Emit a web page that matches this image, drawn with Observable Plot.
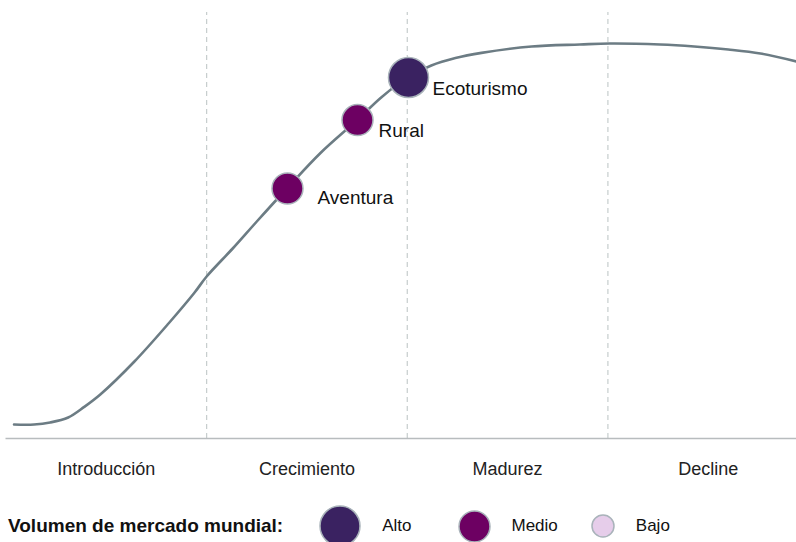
<!DOCTYPE html>
<html>
<head>
<meta charset="utf-8">
<script src="https://cdn.jsdelivr.net/npm/d3@7"></script>
<script src="https://cdn.jsdelivr.net/npm/@observablehq/plot@0.6"></script>
<style>
  html, body { margin: 0; padding: 0; background: #fff; overflow: hidden; }
  #wrap { position: relative; width: 796px; height: 542px; font-family: "Liberation Sans", Arial, sans-serif; }
  #legend { position: absolute; left: 0; top: 496px; height: 60px; display: flex; align-items: center; color: #111; }
  #legend .title { font-weight: bold; font-size: 19px; margin-left: 8px; margin-right: 36px; }
  #legend .lab { font-size: 17px; margin-left: 21px; }
  #legend svg { display: block; }
</style>
</head>
<body>
<div id="wrap"></div>
<script>
// Stages (x axis categories)
const stages = ["Introducción", "Crecimiento", "Madurez", "Decline"];
// Stage boundaries
const boundaries = [1, 2, 3];

// Life-cycle curve (x in stage units, y in relative sales)
const curveX = [0.04, 0.14, 0.22, 0.31, 0.39, 0.47, 0.64, 0.81, 0.94, 1.0, 1.13, 1.25, 1.4, 1.57, 1.75, 1.87, 2.0, 2.12, 2.24, 2.37, 2.62, 2.86, 3.01, 3.26, 3.43, 3.6, 3.76, 3.94];
const curveY = [3.5, 3.5, 4, 5.25, 7.9, 11, 19.25, 28.75, 36.5, 40.5, 47.5, 54.25, 62.5, 71.5, 79.6, 85.25, 90.25, 93.25, 95.1, 96.4, 98, 98.5, 98.75, 98.5, 98, 97.25, 96.25, 94.25];

// Tourism types placed on the curve
const tipos = ["Aventura", "Rural", "Ecoturismo"];
const tiposX = [1.403, 1.752, 2.006];
const tiposY = [62.5, 79.6, 90.25];
const tiposVolumen = ["Medio", "Medio", "Alto"];

// Legend
const legendTitle = "Volumen de mercado mundial:";
const volumenes = ["Alto", "Medio", "Bajo"];

// styles
const volColors = ["#3a2261", "#6d0062", "#e6cdea"];
const volRadii = [20, 15.5, 11];
const legendGaps = [46, 33, 0];
const labelOffsets = {Aventura: [30, 9], Rural: [21, 11], Ecoturismo: [24, 11]};

const curve = curveX.map((x, i) => ({x, y: curveY[i]}));
const puntos = tipos.map((t, i) => ({tipo: t, x: tiposX[i], y: tiposY[i], vol: tiposVolumen[i]}));
const rOf = v => volRadii[volumenes.indexOf(v)];

const plot = Plot.plot({
  width: 796,
  height: 495,
  marginLeft: 5.5,
  marginRight: 0,
  marginTop: 12,
  marginBottom: 57,
  style: {fontFamily: "Liberation Sans, Arial, sans-serif", fontSize: "18px", color: "#222", background: "#fff"},
  x: {domain: [0, 3.94], axis: null},
  y: {domain: [0, 106.5], axis: null},
  color: {domain: volumenes, range: volColors},
  r: {type: "identity"},
  marks: [
    Plot.ruleX(boundaries, {y1: 0, y2: 106.5, stroke: "#c6cdcd", strokeWidth: 1.2, strokeDasharray: "5,4"}),
    Plot.ruleY([0], {stroke: "#b8bcbe", strokeWidth: 1.6}),
    Plot.line(curve, {x: "x", y: "y", curve: "catmull-rom", stroke: "#6c7c84", strokeWidth: 2.6}),
    Plot.dot(puntos, {x: "x", y: "y", r: d => rOf(d.vol), fill: d => d.vol, stroke: "#a9b3ba", strokeWidth: 1.5, fillOpacity: 1}),
    ...tipos.map(t => Plot.text(puntos.filter(d => d.tipo === t), {
      x: "x", y: "y", text: "tipo", textAnchor: "start",
      dx: labelOffsets[t][0], dy: labelOffsets[t][1], fontSize: 19, fill: "#111"
    })),
    Plot.axisX({
      ticks: stages.map((s, i) => i + 0.5),
      tickFormat: (d) => stages[Math.floor(d)],
      tickSize: 0, tickPadding: 24, fontSize: 18, label: null, color: "#222"
    })
  ]
});

const wrap = document.getElementById("wrap");
wrap.appendChild(plot);

// Legend
const leg = document.createElement("div");
leg.id = "legend";
const t = document.createElement("span");
t.className = "title";
t.textContent = legendTitle;
leg.appendChild(t);
volumenes.forEach((v, i) => {
  const r = volRadii[i];
  const svg = d3.create("svg").attr("width", 2 * r + 2).attr("height", 2 * r + 2);
  svg.append("circle").attr("cx", r + 1).attr("cy", r + 1).attr("r", r)
    .attr("fill", volColors[i]).attr("stroke", "#a9b3ba").attr("stroke-width", 1.5);
  leg.appendChild(svg.node());
  const l = document.createElement("span");
  l.className = "lab";
  l.style.marginRight = legendGaps[i] + "px";
  l.textContent = v;
  leg.appendChild(l);
});
wrap.appendChild(leg);
</script>
</body>
</html>
